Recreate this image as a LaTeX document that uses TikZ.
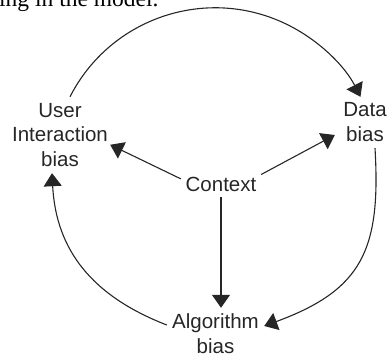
\documentclass[tikz,border=0pt]{standalone}
\usepackage{fontspec}
\setmainfont{Liberation Sans}
\newfontfamily\bodyserif{Liberation Serif}
\usetikzlibrary{arrows.meta}
\definecolor{ink}{HTML}{262626}
\tikzset{
  lbl/.style={inner sep=0pt, align=center, text=ink,
    font=\fontsize{20.5}{24.5}\selectfont},
  conn/.style={draw=ink, line width=1.1pt,
    -{Triangle[length=13pt,width=18pt]}},
}
\begin{document}
\begin{tikzpicture}[x=1pt,y=1pt]
\useasboundingbox (0,0) rectangle (387,356);
\clip (0,0) rectangle (387,356);
% page text fragment cut by the crop
\node[anchor=base west, inner sep=0pt, font=\bodyserif\fontsize{23.5}{27}\selectfont]
  (frag) at (-1,349) {ing in the model.};
% nodes
\node[lbl, minimum width=100pt, minimum height=66pt] (uib) at (60,221) {User\\Interaction\\bias};
\node[lbl, minimum width=44pt, minimum height=42pt] (dat) at (365,234) {Data\\bias};
\node[lbl, minimum width=80pt, minimum height=24pt] (ctx) at (221,171.5) {Context};
\node[lbl, minimum width=97pt, minimum height=44pt] (alg) at (215.5,22.5) {Algorithm\\bias};
% connectors from Context
\draw[conn] (ctx.172) -- (uib.-11);
\draw[conn] (ctx.14) -- ([shift={(-8pt,-13pt)}]dat.west);
\draw[conn, shorten >=3.5pt] (ctx.south) -- (ctx.south |- alg.north);
% cycle arcs
\draw[conn] ([shift={(10pt,5pt)}]uib.north) arc[start angle=153, end angle=27, radius=163pt];
\draw[conn] ([shift={(10pt,-5pt)}]dat.south) .. controls (381,106) and (362,66) .. ([yshift=7.5pt]alg.east);
\draw[conn] ([yshift=8.5pt]alg.west) .. controls (92,60) and (56,106) .. ([shift={(-8pt,-5pt)}]uib.south);
\end{tikzpicture}
\end{document}
